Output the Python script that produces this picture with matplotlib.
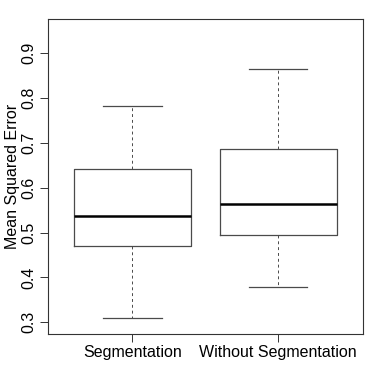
import matplotlib
matplotlib.use("Agg")
import matplotlib.pyplot as plt

plt.rcParams["font.family"] = ["Liberation Sans", "DejaVu Sans"]

labels = ["Segmentation", "Without Segmentation"]
whislo = [0.309, 0.379]
q1 = [0.4695, 0.495]
med = [0.536, 0.564]
q3 = [0.6425, 0.686]
whishi = [0.782, 0.865]

stats = [dict(label=l, whislo=a, q1=b, med=c, q3=d, whishi=e, fliers=[])
         for l, a, b, c, d, e in zip(labels, whislo, q1, med, q3, whishi)]

edge = "#4a4a4a"
fig = plt.figure(figsize=(3.82, 3.82), dpi=100)
ax = fig.add_axes([0.125, 0.1257, 0.825, 0.8243])
ax.bxp(stats, positions=[1, 2], widths=0.8, showfliers=False,
       boxprops=dict(color=edge, lw=0.9),
       medianprops=dict(color="black", lw=1.8, solid_capstyle="butt"),
       whiskerprops=dict(color=edge, lw=0.7, linestyle=(0, (3, 3))),
       capprops=dict(color=edge, lw=0.9), capwidths=0.4)
ax.set_xlim(0.42, 2.58)
ax.set_ylim(0.274, 0.976)
ax.set_yticks([0.3, 0.4, 0.5, 0.6, 0.7, 0.8, 0.9])
ax.set_yticklabels(["0.3", "0.4", "0.5", "0.6", "0.7", "0.8", "0.9"],
                   rotation=90, va="center", fontsize=11.5)
ax.set_xticks([1, 2])
ax.set_xticklabels(labels, fontsize=11.5)
ax.tick_params(length=6, width=0.7, color="#333333", pad=2)
ax.set_ylabel("Mean Squared Error", fontsize=11.5)
ax.yaxis.set_label_coords(-0.112, 0.5)
ax.yaxis.label.set_va("center")
for s in ax.spines.values():
    s.set_linewidth(0.8)
    s.set_color("#333333")
fig.savefig("out.png", dpi=100)
